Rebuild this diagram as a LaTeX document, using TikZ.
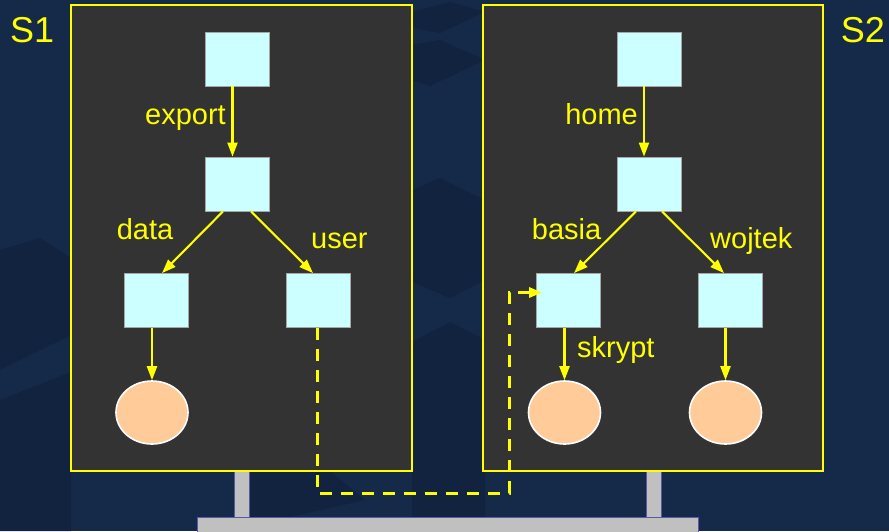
\documentclass[tikz,border=0pt]{standalone}
\usepackage{fontspec}
\setmainfont{Liberation Sans}
\usetikzlibrary{arrows.meta,shapes.geometric,calc}

\definecolor{bgnavy}{HTML}{152A48}
\definecolor{bgdark}{HTML}{11233E}
\definecolor{panelgray}{HTML}{333333}
\definecolor{dirbox}{HTML}{CCFFFF}
\definecolor{filenode}{HTML}{FFCC99}
\definecolor{postgray}{HTML}{C0C0C0}
\definecolor{labelyellow}{HTML}{FFFF00}

\tikzset{
  panel/.style={draw=labelyellow, line width=2pt, fill=panelgray, inner sep=0pt},
  dirnode/.style={rectangle, draw=gray!70, line width=0.8pt, fill=dirbox,
    minimum width=64pt, minimum height=54pt, inner sep=0pt},
  filenode/.style={ellipse, draw=white, line width=1.6pt, fill=filenode,
    minimum width=72pt, minimum height=63pt, inner sep=0pt},
  arr/.style={draw=labelyellow, line width=2.1pt,
    -{Triangle[length=14pt,width=10pt]}},
  mountarr/.style={draw=labelyellow, line width=3pt, dash pattern=on 12pt off 9pt,
    -{Triangle[length=13pt,width=10pt]}},
  lbl/.style={text=labelyellow, inner sep=0pt, font=\fontsize{29}{34}\selectfont},
  srv/.style={text=labelyellow, inner sep=0pt, font=\fontsize{36}{42}\selectfont},
  support/.style={fill=postgray, draw=gray!70!blue, line width=0.5pt},
  shade/.style={fill=bgdark},
}

\begin{document}
\begin{tikzpicture}[x=1pt,y=-1pt]
  % background with faint darker facets
  \fill[bgnavy] (0,0) rectangle (889,531);
  \useasboundingbox (0,0) rectangle (889,531);
  \fill[shade] (0,250) -- (40,238) -- (71,258) -- (71,335) -- (0,370) -- cycle;
  \fill[shade] (0,400) -- (71,372) -- (71,531) -- (0,531) -- cycle;
  \fill[shade] (412,12) -- (450,2) -- (485,12) -- (440,33) -- (412,28) -- cycle;
  \fill[shade] (412,45) -- (440,40) -- (485,60) -- (430,86) -- (412,80) -- cycle;
  \fill[shade] (412,190) -- (440,178) -- (485,200) -- (485,280) -- (450,298) -- (412,282) -- cycle;
  \fill[shade] (412,342) -- (450,322) -- (485,340) -- (485,531) -- (412,531) -- cycle;
  \fill[shade] (250,471) -- (330,471) -- (365,500) -- (290,517) -- (250,517) -- cycle;

  % mounting posts and base bar
  \draw[support] (234,465) rectangle (249,518);
  \draw[support] (646,465) rectangle (661,518);
  \draw[support] (197,517) rectangle (698,535);

  % servers
  \node[panel, minimum width=341pt, minimum height=466pt] (p1) at (241.5,238) {};
  \node[panel, minimum width=340pt, minimum height=466pt] (p2) at (653,238) {};
  \node[srv, anchor=base west] (s1) at (10,42) {S1};
  \node[srv, anchor=base east] (s2) at (885,42) {S2};

  % S1 tree
  \node[dirnode] (t1) at (237,59) {};
  \node[dirnode] (m1) at (237,184) {};
  \node[dirnode] (d1) at (156.5,300.5) {};
  \node[dirnode] (u1) at (318,300.5) {};
  \node[filenode] (e1) at (152,412.5) {};

  % S2 tree
  \node[dirnode] (t2) at (649,59) {};
  \node[dirnode] (m2) at (649,184) {};
  \node[dirnode] (b2) at (568.5,300.5) {};
  \node[dirnode] (w2) at (730,300.5) {};
  \node[filenode] (e2) at (564.5,412.5) {};
  \node[filenode] (e3) at (725.5,412.5) {};

  % S1 edges
  \draw[arr] ([xshift=-4.5pt]t1.south) -- ([xshift=-4.5pt]m1.north);
  \draw[arr] ([xshift=-14pt]m1.south) -- ([xshift=5.5pt]d1.north);
  \draw[arr] ([xshift=14pt]m1.south) -- ([xshift=-5pt]u1.north);
  \draw[arr] (e1.north |- d1.south) -- (e1.north);

  % S2 edges
  \draw[arr] ([xshift=-5pt]t2.south) -- ([xshift=-5pt]m2.north);
  \draw[arr] ([xshift=-13pt]m2.south) -- ([xshift=5.5pt]b2.north);
  \draw[arr] ([xshift=13pt]m2.south) -- ([xshift=-6pt]w2.north);
  \draw[arr] (e2.north |- b2.south) -- (e2.north);
  \draw[arr] (e3.north |- w2.south) -- (e3.north);

  % edge labels
  \node[lbl, anchor=base east] (l-export) at (226,124) {export};
  \node[lbl, anchor=base east] (l-data) at (173.5,239) {data};
  \node[lbl, anchor=base west] (l-user) at (311,248) {user};
  \node[lbl, anchor=base east] (l-home) at (638,124) {home};
  \node[lbl, anchor=base east] (l-basia) at (601.5,239) {basia};
  \node[lbl, anchor=base west] (l-wojtek) at (710,248) {wojtek};
  \node[lbl, anchor=base west] (l-skrypt) at (577,357) {skrypt};

  % mount from S1:/export/user onto S2:/home/basia
  \coordinate (mbend) at (509,493);
  \draw[mountarr] ([xshift=-1pt]u1.south) |- (mbend) |- ([xshift=6pt,yshift=8pt]b2.west);
\end{tikzpicture}
\end{document}
